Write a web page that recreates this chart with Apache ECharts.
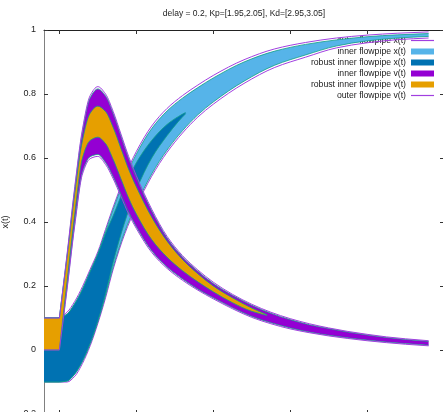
<!DOCTYPE html>
<html>
<head>
<meta charset="utf-8">
<script src="https://cdn.jsdelivr.net/npm/echarts@6/dist/echarts.min.js"></script>
<style>html,body{margin:0;padding:0;background:#fff}#c{width:443px;height:412px}</style>
</head>
<body>
<div id="c"></div>
<script>
// ---- data ----
const titleText = 'delay = 0.2, Kp=[1.95,2.05], Kd=[2.95,3.05]';
const xTicks = [0, 1, 2, 3, 4, 5];
const kinkT = [0];   // end of the delay history: boundaries have a corner there

// x(t) flowpipes
const tX = [-0.2, 0, 0.1, 0.2, 0.3, 0.4, 0.5, 0.6, 0.7, 0.85, 1.0, 1.2, 1.4, 1.6, 1.8, 2.0, 2.4, 2.8, 3.2, 3.6, 4.0, 4.4, 4.8];
const xOuterHi = [0.1, 0.1, 0.118, 0.152, 0.198, 0.252, 0.307, 0.377, 0.447, 0.542, 0.62, 0.7, 0.755, 0.795, 0.828, 0.858, 0.907, 0.941, 0.961, 0.975, 0.984, 0.99, 0.994];
const xOuterLo = [-0.1, -0.1, -0.1, -0.082, -0.042, 0.013, 0.083, 0.163, 0.253, 0.363, 0.448, 0.543, 0.618, 0.678, 0.728, 0.768, 0.833, 0.883, 0.915, 0.944, 0.96, 0.97, 0.975];
const xInnerHi = [0.1, 0.1, 0.112, 0.145, 0.19, 0.245, 0.30, 0.37, 0.44, 0.535, 0.612, 0.692, 0.747, 0.787, 0.82, 0.85, 0.9, 0.934, 0.955, 0.969, 0.979, 0.985, 0.989];
const xInnerLo = [-0.1, -0.1, -0.097, -0.075, -0.035, 0.02, 0.09, 0.17, 0.26, 0.37, 0.455, 0.55, 0.625, 0.685, 0.735, 0.775, 0.84, 0.89, 0.922, 0.95, 0.966, 0.975, 0.98];
const tXr = [-0.2, 0, 0.1, 0.2, 0.3, 0.4, 0.5, 0.6, 0.7, 0.85, 1.0, 1.2, 1.4, 1.55, 1.64];
const xRobustHi = [0.1, 0.1, 0.112, 0.145, 0.19, 0.245, 0.30, 0.365, 0.42, 0.51, 0.585, 0.655, 0.705, 0.73, 0.742];
const xRobustLo = [-0.1, -0.1, -0.097, -0.075, -0.035, 0.02, 0.09, 0.175, 0.275, 0.4, 0.5, 0.6, 0.67, 0.715, 0.738];

// v(t) flowpipes
const tV = [-0.2, 0, 0.1, 0.2, 0.3, 0.4, 0.5, 0.6, 0.7, 0.8, 0.9, 1.0, 1.2, 1.4, 1.6, 1.8, 2.0, 2.25, 2.5, 2.75, 3.0, 3.25, 3.5, 3.75, 4.0, 4.25, 4.5, 4.8];
const vOuterHi = [0.1, 0.1, 0.3, 0.51, 0.69, 0.795, 0.823, 0.80, 0.745, 0.675, 0.605, 0.545, 0.44, 0.355, 0.295, 0.25, 0.212, 0.174, 0.143, 0.118, 0.098, 0.082, 0.069, 0.058, 0.049, 0.041, 0.035, 0.029];
const vOuterLo = [0, 0, 0.19, 0.39, 0.55, 0.598, 0.605, 0.58, 0.535, 0.48, 0.425, 0.38, 0.305, 0.255, 0.218, 0.187, 0.16, 0.129, 0.102, 0.082, 0.066, 0.054, 0.044, 0.036, 0.029, 0.023, 0.018, 0.013];
const vInnerHi = [0.1, 0.1, 0.295, 0.503, 0.683, 0.788, 0.816, 0.794, 0.739, 0.669, 0.599, 0.539, 0.435, 0.35, 0.291, 0.246, 0.208, 0.171, 0.14, 0.115, 0.095, 0.079, 0.067, 0.056, 0.047, 0.039, 0.033, 0.027];
const vInnerLo = [0, 0, 0.196, 0.396, 0.556, 0.604, 0.611, 0.586, 0.541, 0.486, 0.431, 0.385, 0.31, 0.259, 0.222, 0.19, 0.163, 0.132, 0.105, 0.085, 0.069, 0.056, 0.046, 0.038, 0.031, 0.025, 0.02, 0.015];
const tVr = [-0.2, 0, 0.1, 0.2, 0.3, 0.4, 0.5, 0.6, 0.7, 0.8, 0.9, 1.0, 1.2, 1.4, 1.6, 1.8, 2.0, 2.25, 2.5, 2.7];
const vRobustHi = [0.1, 0.1, 0.29, 0.49, 0.655, 0.74, 0.762, 0.745, 0.695, 0.63, 0.565, 0.51, 0.415, 0.34, 0.283, 0.238, 0.2, 0.163, 0.131, 0.11];
const vRobustLo = [0, 0, 0.215, 0.425, 0.6, 0.655, 0.665, 0.645, 0.595, 0.535, 0.475, 0.425, 0.345, 0.29, 0.248, 0.213, 0.182, 0.148, 0.121, 0.108];

const names = ['outer flowpipe x(t)', 'inner flowpipe x(t)', 'robust inner flowpipe x(t)',
               'inner flowpipe v(t)', 'robust inner flowpipe v(t)', 'outer flowpipe v(t)'];

// ---- styling ----
const FONT = "'Liberation Sans', Arial, sans-serif";
const EDGE = '#129e86';
const OUTLINE = '#a13fe0';
const C_XIN = '#56B4E9', C_XROB = '#0072B2', C_VIN = '#9400D3', C_VROB = '#E69F00';

// monotone cubic (pixel space) through already-projected points; corners at kink knots
function segments(t, pts) {
  const n = pts.length, h = [], d = [], mL = [], mR = [];
  for (let i = 0; i < n - 1; i++) {
    h[i] = pts[i + 1][0] - pts[i][0];
    d[i] = (pts[i + 1][1] - pts[i][1]) / h[i];
  }
  for (let i = 0; i < n; i++) {
    if (i === 0) { mL[i] = mR[i] = d[0]; }
    else if (i === n - 1) { mL[i] = mR[i] = d[n - 2]; }
    else if (kinkT.indexOf(t[i]) >= 0) { mL[i] = d[i - 1]; mR[i] = d[i]; }
    else if (d[i - 1] * d[i] <= 0) { mL[i] = mR[i] = 0; }
    else {
      const w1 = 2 * h[i] + h[i - 1], w2 = h[i] + 2 * h[i - 1];
      mL[i] = mR[i] = (w1 + w2) / (w1 / d[i - 1] + w2 / d[i]);
    }
  }
  const segs = [];
  for (let i = 0; i < n - 1; i++) {
    const c1 = [pts[i][0] + h[i] / 3, pts[i][1] + mR[i] * h[i] / 3];
    const c2 = [pts[i + 1][0] - h[i] / 3, pts[i + 1][1] - mL[i + 1] * h[i] / 3];
    segs.push([c1, c2, pts[i + 1]]);
  }
  return segs;
}
function f(p) { return p[0].toFixed(2) + ' ' + p[1].toFixed(2); }
function openPath(t, pts) {
  let s = 'M' + f(pts[0]);
  segments(t, pts).forEach(sg => { s += 'C' + f(sg[0]) + ' ' + f(sg[1]) + ' ' + f(sg[2]); });
  return s;
}
function closedPath(t, up, dn) {
  let s = openPath(t, up);
  const sl = segments(t, dn);
  s += 'L' + f(dn[dn.length - 1]);
  for (let i = sl.length - 1; i >= 0; i--) {
    s += 'C' + f(sl[i][1]) + ' ' + f(sl[i][0]) + ' ' + f(dn[i]);
  }
  return s + 'Z';
}

function band(name, t, lo, hi, fill, z) {
  return {
    name: name, type: 'custom', z: z, silent: true, itemStyle: { color: fill },
    data: t.map((x, i) => [x, lo[i], hi[i]]),
    encode: { x: 0, y: [1, 2] },
    renderItem: function (params, api) {
      if (params.dataIndex !== 0) return null;
      const up = t.map((x, i) => api.coord([x, hi[i]]));
      const dn = t.map((x, i) => api.coord([x, lo[i]]));
      return { type: 'group', children: [
        { type: 'path', shape: { pathData: closedPath(t, up, dn) }, style: { fill: fill, stroke: null } },
        { type: 'path', shape: { pathData: openPath(t, up) }, style: { fill: null, stroke: EDGE, lineWidth: 0.8 } },
        { type: 'path', shape: { pathData: openPath(t, dn) }, style: { fill: null, stroke: EDGE, lineWidth: 0.8 } }
      ] };
    }
  };
}
function outline(name, t, lo, hi, z) {
  return {
    name: name, type: 'custom', z: z, silent: true, itemStyle: { color: OUTLINE },
    data: t.map((x, i) => [x, lo[i], hi[i]]),
    encode: { x: 0, y: [1, 2] },
    renderItem: function (params, api) {
      if (params.dataIndex !== 0) return null;
      const up = t.map((x, i) => api.coord([x, hi[i]]));
      const dn = t.map((x, i) => api.coord([x, lo[i]]));
      return { type: 'group', children: [
        { type: 'path', shape: { pathData: openPath(t, up) }, style: { fill: null, stroke: OUTLINE, lineWidth: 1 } },
        { type: 'path', shape: { pathData: openPath(t, dn) }, style: { fill: null, stroke: OUTLINE, lineWidth: 1 } }
      ] };
    }
  };
}

const series = [
  outline(names[0], tX, xOuterLo, xOuterHi, 2),
  band(names[1], tX, xInnerLo, xInnerHi, C_XIN, 3),
  band(names[2], tXr, xRobustLo, xRobustHi, C_XROB, 4),
  band(names[3], tV, vInnerLo, vInnerHi, C_VIN, 5),
  band(names[4], tVr, vRobustLo, vRobustHi, C_VROB, 6),
  outline(names[5], tV, vOuterLo, vOuterHi, 7)
];

const LINE_ICON = 'path://M0,0H23V1.2H0Z';
const legendData = [
  { name: names[0], icon: LINE_ICON, itemStyle: { color: OUTLINE, borderWidth: 0 } },
  { name: names[1], icon: 'rect', itemStyle: { color: C_XIN, borderWidth: 0 } },
  { name: names[2], icon: 'rect', itemStyle: { color: C_XROB, borderWidth: 0 } },
  { name: names[3], icon: 'rect', itemStyle: { color: C_VIN, borderWidth: 0 } },
  { name: names[4], icon: 'rect', itemStyle: { color: C_VROB, borderWidth: 0 } },
  { name: names[5], icon: LINE_ICON, itemStyle: { color: OUTLINE, borderWidth: 0 } }
];

const chart = echarts.init(document.getElementById('c'), null, { renderer: 'canvas' });
chart.setOption({
  animation: false,
  backgroundColor: '#fff',
  title: {
    text: titleText, left: 239, top: 4, textAlign: 'center',
    textStyle: { fontFamily: FONT, fontSize: 8.5, fontWeight: 'normal', color: '#222' }
  },
  legend: {
    data: legendData, orient: 'vertical', right: 9, top: 35, align: 'right',
    itemWidth: 23, itemHeight: 6, itemGap: 0, z: 1, selectedMode: false, padding: 0,
    textStyle: { fontFamily: FONT, fontSize: 8.7, color: '#222', lineHeight: 11 }
  },
  grid: { left: 44, top: 30, width: 400, height: 384, containLabel: false, outerBoundsMode: 'none' },
  xAxis: [
    { type: 'value', position: 'bottom', min: -0.2, max: 5,
      axisLine: { show: true, onZero: false, lineStyle: { color: '#222', width: 1 } },
      axisTick: { show: true, inside: true, length: 4, customValues: xTicks, lineStyle: { color: '#333' } },
      axisLabel: { show: true, customValues: xTicks, fontFamily: FONT, fontSize: 9, color: '#222' },
      splitLine: { show: false } },
    { type: 'value', position: 'top', min: -0.2, max: 5,
      axisLine: { show: true, onZero: false, lineStyle: { color: '#222', width: 1 } },
      axisTick: { show: true, inside: true, length: 4, customValues: xTicks, lineStyle: { color: '#333' } },
      axisLabel: { show: false }, splitLine: { show: false } }
  ],
  yAxis: [
    { type: 'value', position: 'left', min: -0.2, max: 1, interval: 0.2,
      name: 'x(t)', nameLocation: 'middle', nameRotate: 90, nameGap: 26,
      nameTextStyle: { fontFamily: FONT, fontSize: 9, color: '#222' },
      axisLine: { show: true, onZero: false, lineStyle: { color: '#808080', width: 1 } },
      axisTick: { show: true, inside: true, length: 4, lineStyle: { color: '#333' } },
      axisLabel: { margin: 8, fontFamily: FONT, fontSize: 9, color: '#222' },
      splitLine: { show: false } },
    { type: 'value', position: 'right', min: -0.2, max: 1, interval: 0.2,
      axisLine: { show: true, onZero: false, lineStyle: { color: '#222', width: 1 } },
      axisTick: { show: true, inside: true, length: 4, lineStyle: { color: '#333' } },
      axisLabel: { show: false }, splitLine: { show: false } }
  ],
  series: series
});
</script>
</body>
</html>
